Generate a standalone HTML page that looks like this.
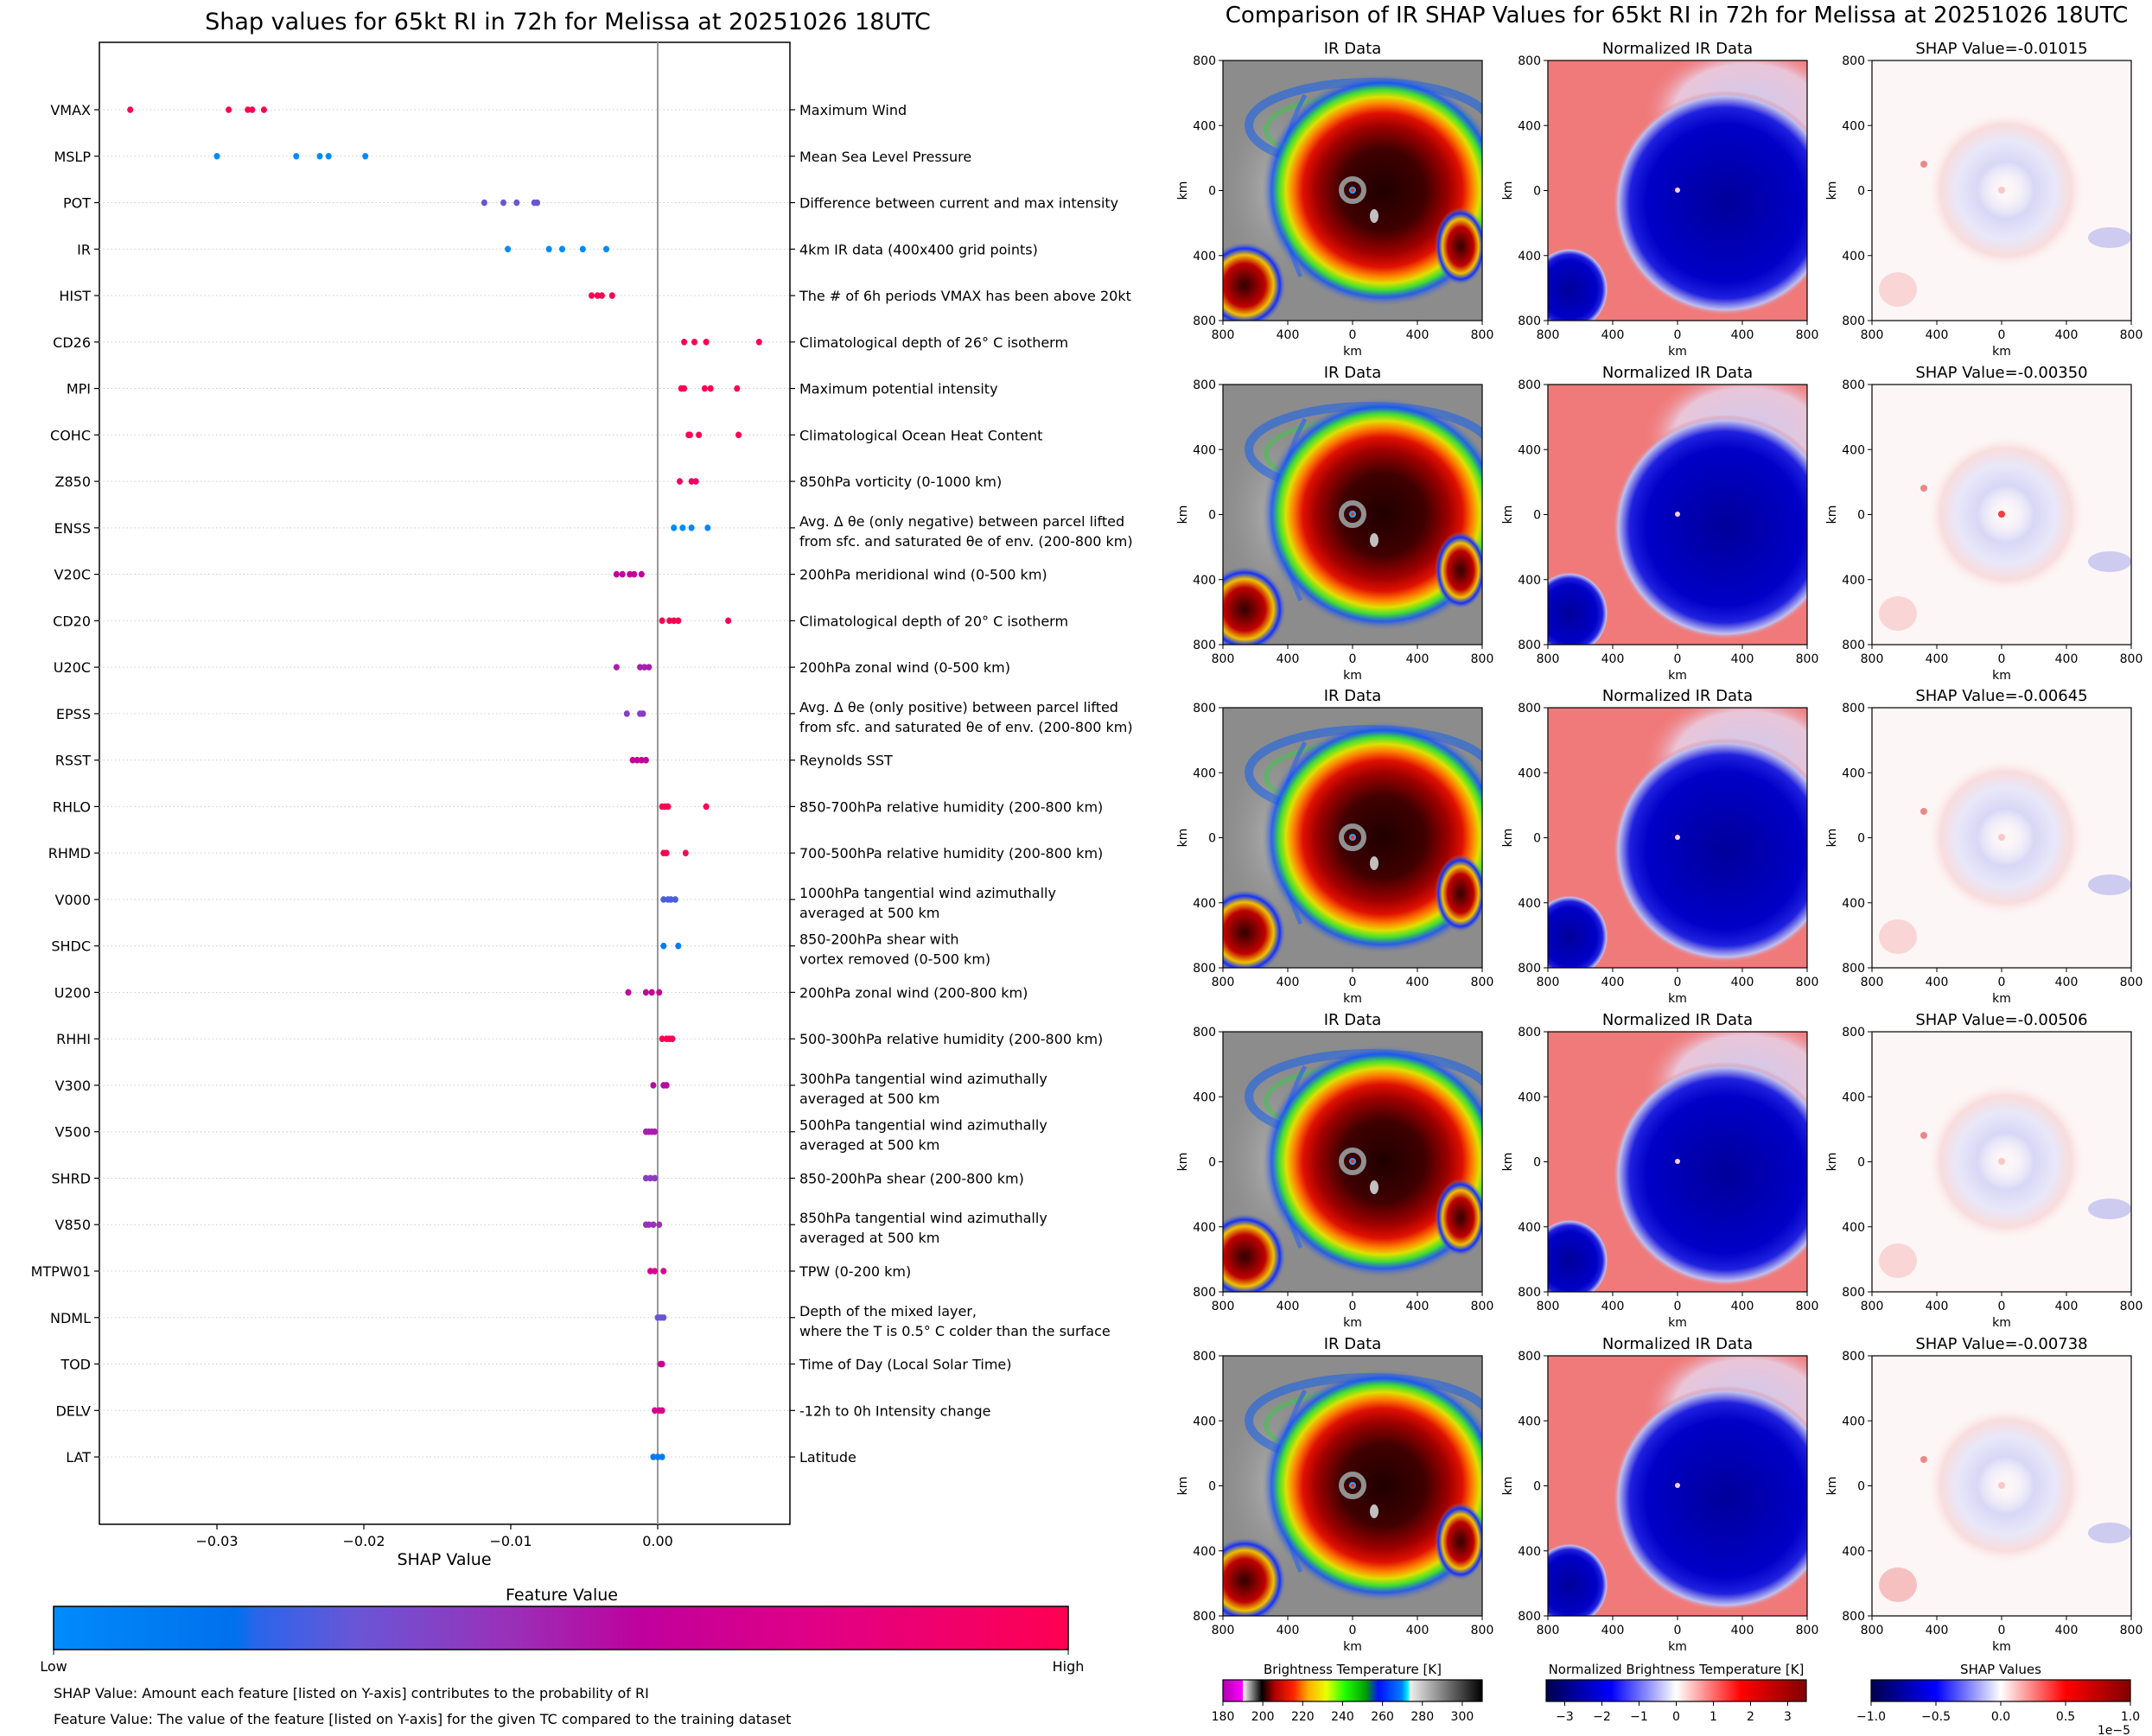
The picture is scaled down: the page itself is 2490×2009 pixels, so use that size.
<!DOCTYPE html>
<html><head><meta charset="utf-8">
<style>
html,body{margin:0;padding:0;background:#fff;}
svg{display:block;font-family:"DejaVu Sans","Liberation Sans",sans-serif;}
</style></head>
<body>
<svg id="root" width="2490" height="2009" viewBox="0 0 2490 2009" xmlns="http://www.w3.org/2000/svg">
<defs id="defs">
<linearGradient id="fvGrad" x1="0" x2="1" y1="0" y2="0">
<stop offset="0" stop-color="#008bfb"/><stop offset="0.18" stop-color="#0070ec"/><stop offset="0.2" stop-color="#2a66ea"/><stop offset="0.3" stop-color="#6b55d6"/><stop offset="0.45" stop-color="#9a30b8"/><stop offset="0.58" stop-color="#c0009c"/><stop offset="0.75" stop-color="#e00086"/><stop offset="1" stop-color="#ff0052"/>
</linearGradient>
<linearGradient id="irCb" x1="0" x2="1">
<stop offset="0" stop-color="#b000b0"/><stop offset="0.076" stop-color="#ff00ff"/><stop offset="0.077" stop-color="#ffffff"/><stop offset="0.15" stop-color="#000000"/><stop offset="0.2" stop-color="#b00000"/><stop offset="0.27" stop-color="#ff2000"/><stop offset="0.33" stop-color="#ffb000"/><stop offset="0.4" stop-color="#e8ff00"/><stop offset="0.47" stop-color="#20ff00"/><stop offset="0.55" stop-color="#00a000"/><stop offset="0.6" stop-color="#0010ff"/><stop offset="0.69" stop-color="#0080ff"/><stop offset="0.715" stop-color="#00ffff"/><stop offset="0.72" stop-color="#f0f0f0"/><stop offset="1" stop-color="#000000"/>
</linearGradient>
<linearGradient id="bwrCb" x1="0" x2="1">
<stop offset="0" stop-color="#00004c"/><stop offset="0.25" stop-color="#0000ff"/><stop offset="0.5" stop-color="#ffffff"/><stop offset="0.75" stop-color="#ff0000"/><stop offset="1" stop-color="#800000"/>
</linearGradient>
<radialGradient id="irBlob" cx="0.5" cy="0.5" r="0.5">
<stop offset="0" stop-color="#200000"/><stop offset="0.35" stop-color="#400000"/><stop offset="0.55" stop-color="#a00000"/><stop offset="0.66" stop-color="#e01000"/><stop offset="0.74" stop-color="#ff8000"/><stop offset="0.8" stop-color="#e0e000"/><stop offset="0.86" stop-color="#40e030"/><stop offset="0.92" stop-color="#1050ff" stop-opacity="0.8"/><stop offset="1" stop-color="#8a8a8a" stop-opacity="0"/>
</radialGradient>
<radialGradient id="irLL" cx="0.5" cy="0.5" r="0.5">
<stop offset="0" stop-color="#300000"/><stop offset="0.5" stop-color="#c00000"/><stop offset="0.7" stop-color="#f0c000"/><stop offset="0.85" stop-color="#1030ff"/><stop offset="1" stop-color="#8a8a8a" stop-opacity="0"/>
</radialGradient>
<radialGradient id="irLight" cx="0.5" cy="0.5" r="0.5">
<stop offset="0" stop-color="#d8d8d8"/><stop offset="1" stop-color="#a0a0a0" stop-opacity="0"/>
</radialGradient>
<radialGradient id="nBlob" cx="0.5" cy="0.5" r="0.5">
<stop offset="0" stop-color="#00009a"/><stop offset="0.7" stop-color="#0000c8"/><stop offset="0.85" stop-color="#2020e0"/><stop offset="0.95" stop-color="#c0c0f0"/><stop offset="1" stop-color="#f07878" stop-opacity="0"/>
</radialGradient>
<radialGradient id="nLight" cx="0.5" cy="0.5" r="0.5">
<stop offset="0" stop-color="#c8c8f0"/><stop offset="0.7" stop-color="#e8d8f0" stop-opacity="0.8"/><stop offset="1" stop-color="#f07878" stop-opacity="0"/>
</radialGradient>
<radialGradient id="sRing" cx="0.5" cy="0.5" r="0.5">
<stop offset="0" stop-color="#ffffff" stop-opacity="0"/><stop offset="0.35" stop-color="#d4d4f6"/><stop offset="0.6" stop-color="#e6e6fa"/><stop offset="0.8" stop-color="#f8dada"/><stop offset="1" stop-color="#ffffff" stop-opacity="0"/>
</radialGradient>
</defs>
<g id="left"></g>
<g id="right"></g>
</svg>
<script>
// ---------- SHAP summary data ----------
const features = ["VMAX","MSLP","POT","IR","HIST","CD26","MPI","COHC","Z850","ENSS","V20C","CD20","U20C","EPSS","RSST","RHLO","RHMD","V000","SHDC","U200","RHHI","V300","V500","SHRD","V850","MTPW01","NDML","TOD","DELV","LAT"];
const descriptions = [
["Maximum Wind"],["Mean Sea Level Pressure"],["Difference between current and max intensity"],["4km IR data (400x400 grid points)"],
["The # of 6h periods VMAX has been above 20kt"],["Climatological depth of 26° C isotherm"],["Maximum potential intensity"],["Climatological Ocean Heat Content"],
["850hPa vorticity (0-1000 km)"],["Avg. Δ θe (only negative) between parcel lifted","from sfc. and saturated θe of env. (200-800 km)"],["200hPa meridional wind (0-500 km)"],["Climatological depth of 20° C isotherm"],
["200hPa zonal wind (0-500 km)"],["Avg. Δ θe (only positive) between parcel lifted","from sfc. and saturated θe of env. (200-800 km)"],["Reynolds SST"],["850-700hPa relative humidity (200-800 km)"],
["700-500hPa relative humidity (200-800 km)"],["1000hPa tangential wind azimuthally","averaged at 500 km"],["850-200hPa shear with","vortex removed (0-500 km)"],["200hPa zonal wind (200-800 km)"],
["500-300hPa relative humidity (200-800 km)"],["300hPa tangential wind azimuthally","averaged at 500 km"],["500hPa tangential wind azimuthally","averaged at 500 km"],["850-200hPa shear (200-800 km)"],
["850hPa tangential wind azimuthally","averaged at 500 km"],["TPW (0-200 km)"],["Depth of the mixed layer,","where the T is 0.5° C colder than the surface"],["Time of Day (Local Solar Time)"],["-12h to 0h Intensity change"],["Latitude"]];
const shapValues = [
[-0.0359,-0.0292,-0.0279,-0.0276,-0.0268],
[-0.0300,-0.0246,-0.0230,-0.0224,-0.0199],
[-0.0118,-0.0105,-0.0096,-0.0084,-0.0082],
[-0.0102,-0.0074,-0.0065,-0.0051,-0.0035],
[-0.0045,-0.0041,-0.0038,-0.0031],
[0.0018,0.0025,0.0033,0.0069],
[0.0016,0.0018,0.0032,0.0036,0.0054],
[0.0021,0.0022,0.0028,0.0055],
[0.0015,0.0023,0.0026],
[0.0011,0.0017,0.0023,0.0034],
[-0.0028,-0.0024,-0.0019,-0.0016,-0.0011],
[0.0003,0.0008,0.0011,0.0014,0.0048],
[-0.0028,-0.0012,-0.0009,-0.0006],
[-0.0021,-0.0012,-0.0010],
[-0.0017,-0.0014,-0.0011,-0.0008],
[0.0003,0.0005,0.0007,0.0033],
[0.0004,0.0006,0.0019],
[0.0004,0.0007,0.0009,0.0012],
[0.0004,0.0014],
[-0.0020,-0.0008,-0.0004,0.0001],
[0.0003,0.0006,0.0008,0.0010],
[-0.0003,0.0004,0.0006],
[-0.0008,-0.0006,-0.0004,-0.0002],
[-0.0008,-0.0005,-0.0002],
[-0.0008,-0.0006,-0.0003,0.0001],
[-0.0005,-0.0002,0.0004],
[0.0000,0.0002,0.0004],
[0.0002,0.0003],
[-0.0002,0.0001,0.0003],
[-0.0003,0.0000,0.0003]];
const featureLevel = [1.0,0.0,0.3,0.0,1.0,1.0,1.0,1.0,0.9,0.0,0.6,1.0,0.5,0.4,0.6,1.0,1.0,0.25,0.1,0.6,1.0,0.55,0.5,0.4,0.45,0.7,0.3,0.65,0.7,0.1];
const xTicks = [-0.03,-0.02,-0.01,0.00];
const xTickLabels = ["\u22120.03","\u22120.02","\u22120.01","0.00"];

const NS = "http://www.w3.org/2000/svg";
function mk(tag, attrs, parent, text){
  const e = document.createElementNS(NS, tag);
  for (const k in attrs) e.setAttribute(k, attrs[k]);
  if (text !== undefined) e.textContent = text;
  parent.appendChild(e);
  return e;
}
const L = document.getElementById('left');
const DEFS = document.getElementById('defs');
const AX = {x0:115, x1:914, y0:49, y1:1764};
function xScale(v){ return 761 + v * 17000; }
function yRow(i){ return 127 + i * 53.76; }
const fvStops = [[0,[0,139,251]],[0.18,[0,112,236]],[0.2,[42,102,234]],[0.3,[107,85,214]],[0.45,[154,48,184]],[0.58,[192,0,156]],[0.75,[224,0,134]],[1,[255,0,82]]];
function fvColor(t){
  for (let k=1;k<fvStops.length;k++){
    if (t<=fvStops[k][0]){
      const a=fvStops[k-1], b=fvStops[k], f=(t-a[0])/(b[0]-a[0]||1);
      const c=a[1].map((v,j)=>Math.round(v+(b[1][j]-v)*f));
      return `rgb(${c[0]},${c[1]},${c[2]})`;
    }
  }
  return 'rgb(255,0,82)';
}

let t = mk('text',{x:657,y:34,'font-size':27,'text-anchor':'middle'},L,"Shap values for 65kt RI in 72h for Melissa at 20251026 18UTC");



let frame = mk('rect',{x:AX.x0,y:AX.y0,width:AX.x1-AX.x0,height:AX.y1-AX.y0,fill:'none',stroke:'#000','stroke-width':1.5},L);



features.forEach((f,i)=>{
  const y = yRow(i);
  const g = mk('line',{x1:AX.x0,x2:AX.x1,y1:y,y2:y,stroke:'#ccc','stroke-width':1,'stroke-dasharray':'1.5,3'},L);
  
  
  mk('line',{x1:AX.x0-6,x2:AX.x0,y1:y,y2:y,stroke:'#000','stroke-width':1.2},L);
  mk('line',{x1:AX.x1,x2:AX.x1+6,y1:y,y2:y,stroke:'#000','stroke-width':1.2},L);
  const lab = mk('text',{x:AX.x0-10,y:y+6,'font-size':16,'text-anchor':'end'},L,f);
  
  
  const d = descriptions[i];
  const yy = d.length===1 ? y+6 : y-2;
  d.forEach((line,j)=>{
    const dt = mk('text',{x:AX.x1+11,y:yy+j*23,'font-size':16},L,line);
    
    
  });
});

const zl = mk('line',{x1:xScale(0),x2:xScale(0),y1:AX.y0,y2:AX.y1,stroke:'#999','stroke-width':2},L);



shapValues.forEach((vals,i)=>{
  vals.forEach(v=>{
    const c = mk('ellipse',{cx:xScale(v),cy:yRow(i),rx:3.5,ry:3.8,fill:fvColor(featureLevel[i])},L);
    
    
  });
});

xTicks.forEach((v,k)=>{
  const x = xScale(v);
  mk('line',{x1:x,x2:x,y1:AX.y1,y2:AX.y1+6,stroke:'#000','stroke-width':1.2},L);
  const tl = mk('text',{x:x,y:AX.y1+25,'font-size':16,'text-anchor':'middle'},L,xTickLabels[k]);
  
  
});
t = mk('text',{x:514,y:1811,'font-size':19,'text-anchor':'middle'},L,"SHAP Value");



t = mk('text',{x:650,y:1852,'font-size':19,'text-anchor':'middle'},L,"Feature Value");


const cb = mk('rect',{x:62,y:1859,width:1174,height:50,fill:'url(#fvGrad)',stroke:'#000','stroke-width':1.5},L);


mk('line',{x1:62,x2:62,y1:1909,y2:1915,stroke:'#000'},L);
mk('line',{x1:1236,x2:1236,y1:1909,y2:1915,stroke:'#000'},L);
t = mk('text',{x:62,y:1934,'font-size':16,'text-anchor':'middle'},L,"Low");


t = mk('text',{x:1236,y:1934,'font-size':16,'text-anchor':'middle'},L,"High");


t = mk('text',{x:62,y:1965,'font-size':16},L,"SHAP Value: Amount each feature [listed on Y-axis] contributes to the probability of RI");


t = mk('text',{x:62,y:1995,'font-size':16},L,"Feature Value: The value of the feature [listed on Y-axis] for the given TC compared to the training dataset");



// ---------- right panel grid ----------
const R = document.getElementById('right');
const shapTitles = ["-0.01015","-0.00350","-0.00645","-0.00506","-0.00738"];
const colX = [1415,1791,2166];
const rowY = [70,445,819,1194,1569];
const PW = 300, PH = 301;
const kmLabels = ["800","400","0","400","800"];

t = mk('text',{x:1940,y:26,'font-size':26,'text-anchor':'middle'},R,"Comparison of IR SHAP Values for 65kt RI in 72h for Melissa at 20251026 18UTC");



let clipId = 0;
function clipGroup(parent,x,y){
  const id = 'clp'+(clipId++);
  const cp = mk('clipPath',{id:id},DEFS);
  mk('rect',{x:x,y:y,width:PW,height:PH},cp);
  return mk('g',{'clip-path':`url(#${id})`},parent);
}
function irPanel(p,x,y,r){
  const g = clipGroup(p,x,y);
  mk('rect',{x:x,y:y,width:PW,height:PH,fill:'#8c8c8c'},g);
  mk('ellipse',{cx:x+200,cy:y+70,rx:90,ry:45,fill:'url(#irLight)'},g);
  mk('ellipse',{cx:x+60,cy:y+150,rx:60,ry:110,fill:'url(#irLight)',opacity:0.5},g);
  mk('ellipse',{cx:x+170,cy:y+75,rx:140,ry:50,fill:'none',stroke:'#1060f0','stroke-width':10,opacity:0.55},g);
  mk('ellipse',{cx:x+170,cy:y+80,rx:120,ry:40,fill:'none',stroke:'#30d040','stroke-width':6,opacity:0.45},g);
  mk('path',{d:`M${x+95} ${y+40} Q${x+40} ${y+140} ${x+90} ${y+250}`,fill:'none',stroke:'#2060ff','stroke-width':5,opacity:0.6},g);
  mk('ellipse',{cx:x+185,cy:y+150,rx:140,ry:135,fill:'url(#irBlob)'},g);
  mk('ellipse',{cx:x+275,cy:y+215,rx:30,ry:45,fill:'url(#irLL)'},g);
  mk('ellipse',{cx:x+25,cy:y+260,rx:48,ry:50,fill:'url(#irLL)'},g);
  mk('circle',{cx:x+150,cy:y+150,r:13,fill:'none',stroke:'#909090','stroke-width':6},g);
  mk('circle',{cx:x+150,cy:y+150,r:4,fill:'#30a0ff'},g);
  mk('circle',{cx:x+150,cy:y+150,r:2,fill:'#ff3000'},g);
  mk('ellipse',{cx:x+175,cy:y+180,rx:5,ry:8,fill:'#c0c0c0'},g);
}
function normPanel(p,x,y,r){
  const g = clipGroup(p,x,y);
  mk('rect',{x:x,y:y,width:PW,height:PH,fill:'#f07a7a'},g);
  mk('ellipse',{cx:x+230,cy:y+60,rx:120,ry:80,fill:'url(#nLight)'},g);
  mk('ellipse',{cx:x+205,cy:y+165,rx:130,ry:130,fill:'url(#nBlob)'},g);
  mk('ellipse',{cx:x+25,cy:y+265,rx:45,ry:48,fill:'url(#nBlob)'},g);
  mk('circle',{cx:x+150,cy:y+150,r:3,fill:'#ffd0d0'},g);
}
function shapPanel(p,x,y,r){
  const g = clipGroup(p,x,y);
  mk('rect',{x:x,y:y,width:PW,height:PH,fill:'#fdf6f6'},g);
  mk('ellipse',{cx:x+155,cy:y+150,rx:95,ry:95,fill:'url(#sRing)',opacity:0.9},g);
  mk('circle',{cx:x+150,cy:y+150,r:4,fill:r===1?'#f04040':'#f8c8c8'},g);
  mk('ellipse',{cx:x+30,cy:y+265,rx:22,ry:20,fill:'#f6c0c0',opacity:r===4?1:0.6},g);
  mk('ellipse',{cx:x+275,cy:y+205,rx:25,ry:12,fill:'#c0c0ee',opacity:0.8},g);
  mk('circle',{cx:x+60,cy:y+120,r:4,fill:'#e04040',opacity:0.6},g);
}
function drawAxes(g,x,y,title,name){
  mk('rect',{x:x,y:y,width:PW,height:PH,fill:'none',stroke:'#000','stroke-width':1.2},g);
  const tt = mk('text',{x:x+PW/2,y:y-8,'font-size':18,'text-anchor':'middle'},g,title);
  
  
  kmLabels.forEach((s,k)=>{
    const yy = y + k*PH/4, xx = x + k*PW/4;
    mk('line',{x1:x-5,x2:x,y1:yy,y2:yy,stroke:'#000'},g);
    mk('text',{x:x-8,y:yy+5,'font-size':14,'text-anchor':'end'},g,s);
    mk('line',{x1:xx,x2:xx,y1:y+PH,y2:y+PH+5,stroke:'#000'},g);
    mk('text',{x:xx,y:y+PH+21,'font-size':14,'text-anchor':'middle'},g,s);
  });
  mk('text',{x:x+PW/2,y:y+PH+40,'font-size':14,'text-anchor':'middle'},g,"km");
  mk('text',{x:0,y:0,'font-size':14,'text-anchor':'middle',transform:`translate(${x-42},${y+PH/2}) rotate(-90)`},g,"km");
}
rowY.forEach((y,r)=>{
  const g1 = mk('g',{},R);
  
  
  irPanel(g1,colX[0],y,r); drawAxes(g1,colX[0],y,"IR Data",'ir-data');
  const g2 = mk('g',{},R);
  
  
  normPanel(g2,colX[1],y,r); drawAxes(g2,colX[1],y,"Normalized IR Data",'normalized-ir');
  const g3 = mk('g',{},R);
  
  
  shapPanel(g3,colX[2],y,r); drawAxes(g3,colX[2],y,"SHAP Value="+shapTitles[r],'shap-map');
});

// bottom colorbars
const cbs = [
 {x:1415,w:300,fill:'url(#irCb)',title:'Brightness Temperature [K]',min:180,max:310,ticks:[180,200,220,240,260,280,300],labels:["180","200","220","240","260","280","300"],name:'brightness-colorbar'},
 {x:1789,w:301,fill:'url(#bwrCb)',title:'Normalized Brightness Temperature [K]',min:-3.5,max:3.5,ticks:[-3,-2,-1,0,1,2,3],labels:["\u22123","\u22122","\u22121","0","1","2","3"],name:'normalized-colorbar'},
 {x:2165,w:300,fill:'url(#bwrCb)',title:'SHAP Values',min:-1,max:1,ticks:[-1,-0.5,0,0.5,1],labels:["\u22121.0","\u22120.5","0.0","0.5","1.0"],name:'shap-colorbar'}];
cbs.forEach(c=>{
  const r = mk('rect',{x:c.x,y:1944,width:c.w,height:25,fill:c.fill,stroke:'#000','stroke-width':1.2},R);
  
  
  mk('text',{x:c.x+c.w/2,y:1937,'font-size':15,'text-anchor':'middle'},R,c.title);
  c.ticks.forEach((v,k)=>{
    const xx = c.x + (v-c.min)/(c.max-c.min)*c.w;
    mk('line',{x1:xx,x2:xx,y1:1969,y2:1974,stroke:'#000'},R);
    mk('text',{x:xx,y:1991,'font-size':14,'text-anchor':'middle'},R,c.labels[k]);
  });
});
t = mk('text',{x:2465,y:2007,'font-size':14,'text-anchor':'end'},R,"1e\u22125");


</script>
</body></html>
